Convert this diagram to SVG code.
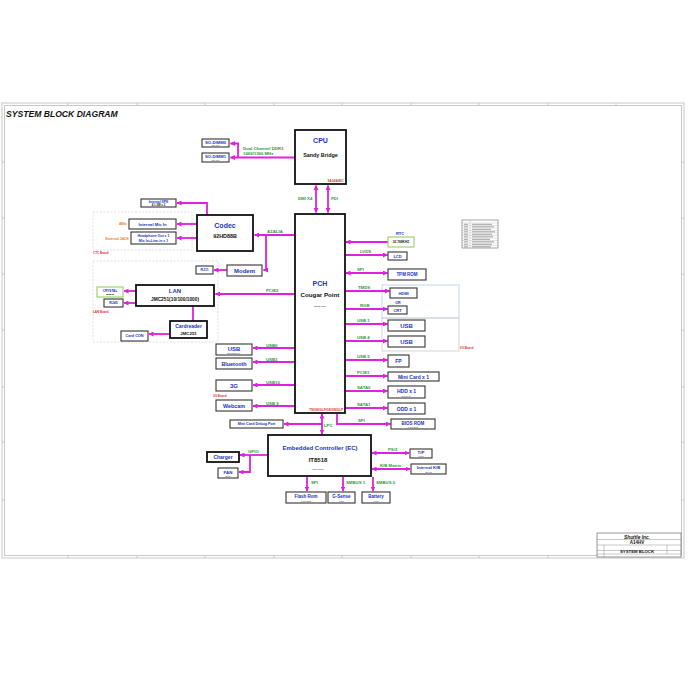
<svg xmlns="http://www.w3.org/2000/svg" width="700" height="700" viewBox="0 0 700 700">
<style>
text{font-family:"Liberation Sans",Arial,sans-serif;font-weight:bold}
.bx{fill:#fff;stroke:#333;stroke-width:1.1}
.tb{fill:#fff;stroke:#111;stroke-width:1.8}
.gb{fill:#fff;stroke:#9c6;stroke-width:1.1}
.nt{fill:#2233bb;text-anchor:middle}
.kt{fill:#111;text-anchor:middle}
.sm{fill:#333;text-anchor:middle;font-size:2.2px;font-weight:normal}
.bl{fill:#2a9a3a;font-size:4.3px}
.rd{fill:#e03030;font-size:3px}
.or{fill:#f08020;font-size:3.4px;text-anchor:end}
.cn{fill:none;stroke:#e020e0;stroke-width:1.8}
.a{marker-end:url(#ah)}
.aa{marker-end:url(#ah);marker-start:url(#ah)}
.dz{fill:none;stroke:#d8d8d8;stroke-width:0.8;stroke-dasharray:2 1.5}
.fr{fill:none;stroke:#c8c8c8;stroke-width:1}
.tk{stroke:#c8c8c8;stroke-width:1}
</style>
<defs>
<marker id="ah" markerUnits="userSpaceOnUse" markerWidth="5" markerHeight="5" refX="4.5" refY="2.5" orient="auto-start-reverse"><path d="M0,0 L5,2.5 L0,5 z" fill="#e020e0"/></marker>
</defs>
<rect width="700" height="700" fill="#fff"/>
<g id="frame">
<rect class="fr" x="2" y="103" width="682" height="455"/>
<rect class="fr" x="4.5" y="105.5" width="677" height="450"/>
<path class="tk" d="M68,103v3M137,103v3M205,103v3M274,103v3M342,103v3M411,103v3M479,103v3M548,103v3M616,103v3M68,555v3M137,555v3M205,555v3M274,555v3M342,555v3M411,555v3M479,555v3M548,555v3M616,555v3M2,162h3M2,218h3M2,274h3M2,330h3M2,387h3M2,442h3M2,500h3M681,162h3M681,218h3M681,274h3M681,330h3M681,387h3M681,442h3M681,500h3"/>
<text x="6" y="117" font-size="8.6" font-style="italic" fill="#111">SYSTEM BLOCK DIAGRAM</text>
</g>
<g id="zones">
<rect class="dz" x="93" y="212" width="99" height="38"/>
<text class="rd" x="93" y="254">CTC Board</text>
<rect class="dz" x="93" y="261" width="125" height="81"/>
<text class="rd" x="93" y="313">LAN Board</text>
<rect x="382" y="285" width="77" height="33" fill="none" stroke="#bcd3e6" stroke-width="0.9"/>
<rect x="382" y="318" width="77" height="33" fill="none" stroke="#d0d0d0" stroke-width="0.9"/>
<text class="rd" x="460" y="349">I/O Board</text>
<text class="rd" x="213" y="397">3G Board</text>
</g>
<g id="connectors">
<path class="cn a" d="M295,157.5H230.5"/>
<path class="cn a" d="M238,157.5V143.5H230.5"/>
<path class="cn aa" d="M316,185.5V212.5"/>
<path class="cn aa" d="M328,185.5V212.5"/>
<path class="cn a" d="M295,235H254.5"/>
<path class="cn a" d="M266,235V270H263.5"/>
<path class="cn a" d="M207,215V203H177"/>
<path class="cn a" d="M197,224H177"/>
<path class="cn a" d="M197,238H177"/>
<path class="cn a" d="M227,270H214"/>
<path class="cn a" d="M295,294H215.5"/>
<path class="cn a" d="M136,291H124"/>
<path class="cn a" d="M136,303H124"/>
<path class="cn" d="M193,306V321"/>
<path class="cn a" d="M170,334H149"/>
<path class="cn a" d="M295,348H253"/>
<path class="cn a" d="M295,362H253"/>
<path class="cn a" d="M295,385H253"/>
<path class="cn a" d="M295,406H253"/>
<path class="cn a" d="M388,242H346"/>
<path class="cn a" d="M345,255H387.5"/>
<path class="cn aa" d="M346,273H387.5"/>
<path class="cn a" d="M345,291H389.5"/>
<path class="cn a" d="M345,309H387.5"/>
<path class="cn a" d="M345,324H387.5"/>
<path class="cn a" d="M345,341H387.5"/>
<path class="cn a" d="M345,360H387.5"/>
<path class="cn a" d="M345,376H387.5"/>
<path class="cn a" d="M345,391H387.5"/>
<path class="cn a" d="M345,408H387.5"/>
<path class="cn aa" d="M322,414V434"/>
<path class="cn a" d="M322,424H284"/>
<path class="cn a" d="M337,414V424H390.5"/>
<path class="cn a" d="M268,455H240"/>
<path class="cn a" d="M250,455V472H239"/>
<path class="cn aa" d="M372,453H409"/>
<path class="cn aa" d="M372,469H410"/>
<path class="cn a" d="M307,477V491"/>
<path class="cn a" d="M343,477V491"/>
<path class="cn a" d="M373,477V491"/>
<text class="bl" x="243" y="150">Dual Channel DDR3</text>
<text class="bl" x="243" y="155">1066/1366 MHz</text>
<text class="bl" x="298" y="200">DMI X4</text>
<text class="bl" x="331" y="200">FDI</text>
<text class="bl" x="267" y="233">AZALIA</text>
<text class="bl" x="266" y="292">PCIE2</text>
<text class="bl" x="266" y="346.5">USB0</text>
<text class="bl" x="266" y="360.5">USB3</text>
<text class="bl" x="266" y="383.5">USB10</text>
<text class="bl" x="266" y="404.5">USB 9</text>
<text class="bl" x="360" y="253">LVDS</text>
<text class="bl" x="357" y="271">SPI</text>
<text class="bl" x="358" y="289">TMDS</text>
<text class="bl" x="360" y="307">RGB</text>
<text class="bl" x="357" y="322">USB 1</text>
<text class="bl" x="357" y="339">USB 4</text>
<text class="bl" x="357" y="358">USB 5</text>
<text class="bl" x="357" y="374">PCIE1</text>
<text class="bl" x="357" y="389">SATA0</text>
<text class="bl" x="357" y="406">SATA1</text>
<text class="bl" x="324" y="427">LPC</text>
<text class="bl" x="358" y="422">SPI</text>
<text class="bl" x="248" y="453">GPIO</text>
<text class="bl" x="388" y="451">PS/2</text>
<text class="bl" x="380" y="467">K/B Matrix</text>
<text class="bl" x="311" y="484">SPI</text>
<text class="bl" x="346" y="484">SMBUS 1</text>
<text class="bl" x="376" y="484">SMBUS 0</text>
</g>
<g id="cpu"><rect class="tb" x="295" y="130" width="51" height="54"/><text class="nt" x="320.5" y="143" font-size="7">CPU</text><text class="kt" x="320.5" y="157" font-size="5.4">Sandy Bridge</text><text class="rd" x="344" y="182" font-size="2.2" text-anchor="end">SA14/A/B/C</text></g>
<g id="sodimm0"><rect class="bx" x="202" y="139" width="27" height="8"/><text class="nt" x="215.5" y="143.5" font-size="4.2">SO-DIMM0</text><text class="sm" x="215.5" y="146.3">204 Pin</text></g>
<g id="sodimm1"><rect class="bx" x="202" y="153" width="27" height="9"/><text class="nt" x="215.5" y="157.5" font-size="4.2">SO-DIMM1</text><text class="sm" x="215.5" y="160.5">204 Pin</text></g>
<g id="pch"><rect class="tb" x="295" y="214" width="50" height="199"/><text class="nt" x="320" y="286" font-size="7">PCH</text><text class="kt" x="320" y="297" font-size="6.2">Cougar Point</text><text class="sm" x="320" y="307" font-size="2.6">BD82HM65</text><text class="rd" x="343" y="411" font-size="2" text-anchor="end">TN/GN/GLF/GE/GN/GLP</text></g>
<g id="codec"><rect class="tb" x="197" y="215" width="56" height="36"/><text class="nt" x="225" y="228" font-size="7">Codec</text><text class="kt" x="225" y="238" font-size="5.4">92HD88B</text></g>
<g id="spk"><rect class="bx" x="141" y="199" width="35" height="8"/><text class="nt" x="158.5" y="202.6" font-size="3.3">Internal SPK</text><text class="kt" x="158.5" y="206" font-size="2.8">4     1.5W x 2</text></g>
<g id="mic"><rect class="bx" x="129" y="219" width="47" height="10"/><text class="nt" x="152.5" y="225.5" font-size="4.2">Internal Mic In</text><text class="or" x="127" y="225">AMic</text></g>
<g id="hp"><rect class="bx" x="131" y="232" width="45" height="12"/><text class="nt" x="153.5" y="237.3" font-size="3.5">Headphone Out x 1</text><text class="nt" x="153.5" y="242" font-size="3.5">Mic In+Line-in x 1</text><text class="or" x="129" y="240">External JACK</text></g>
<g id="modem"><rect class="bx" x="227" y="265" width="35" height="11"/><text class="nt" x="244.5" y="272.6" font-size="6">Modem</text></g>
<g id="rj11"><rect class="bx" x="196" y="266" width="17" height="8"/><text class="nt" x="204.5" y="271.3" font-size="3.5">RJ11</text></g>
<g id="lan"><rect class="tb" x="136" y="285" width="78" height="21"/><text class="nt" x="175" y="293" font-size="6">LAN</text><text class="kt" x="175" y="300.5" font-size="4.8">JMC251(10/100/1000)</text></g>
<g id="crystal"><rect class="gb" x="97" y="287" width="26" height="10"/><text class="nt" x="110" y="291.5" font-size="3.2">CRYSTAL</text><text class="kt" x="110" y="295.3" font-size="2.5">25MHZ</text></g>
<g id="rj45"><rect class="bx" x="104" y="299" width="19" height="8"/><text class="nt" x="113.5" y="304.3" font-size="3.5">RJ45</text></g>
<g id="cardreader"><rect class="tb" x="170" y="321" width="37" height="17"/><text class="nt" x="188.5" y="328" font-size="5">Cardreader</text><text class="kt" x="188.5" y="335" font-size="4.4">JMC251</text></g>
<g id="cardcon"><rect class="bx" x="121" y="331" width="27" height="10"/><text class="nt" x="134.5" y="337.3" font-size="3.8">Card CON</text></g>
<g id="usbl"><rect class="bx" x="216" y="344" width="36" height="11"/><text class="nt" x="234" y="350.5" font-size="6">USB</text><text class="sm" x="234" y="354">Extension 1X</text></g>
<g id="bt"><rect class="bx" x="216" y="358" width="36" height="11"/><text class="nt" x="234" y="365.6" font-size="5.4">Bluetooth</text></g>
<g id="g3"><rect class="bx" x="216" y="380" width="36" height="11"/><text class="nt" x="234" y="387.8" font-size="6">3G</text></g>
<g id="webcam"><rect class="bx" x="216" y="400" width="36" height="11"/><text class="nt" x="234" y="407.6" font-size="5.4">Webcam</text></g>
<g id="rtc"><rect class="gb" x="388" y="237" width="26" height="10"/><text class="nt" x="400" y="235" font-size="4">RTC</text><text class="kt" x="401" y="243.3" font-size="3.2">32.768KHZ</text></g>
<g id="lcd"><rect class="bx" x="388" y="252" width="19" height="8"/><text class="nt" x="397.5" y="257.5" font-size="4">LCD</text></g>
<g id="tpm"><rect class="bx" x="388" y="269" width="38" height="11"/><text class="nt" x="407" y="276" font-size="4.5">TPM ROM</text></g>
<g id="hdmi"><rect class="bx" x="390" y="288" width="27" height="10"/><text class="nt" x="403.5" y="294.5" font-size="4">HDMI</text><text class="nt" x="398" y="303.5" font-size="3.6">OR</text></g>
<g id="crt"><rect class="bx" x="388" y="306" width="19" height="8"/><text class="nt" x="397.5" y="311.5" font-size="4">CRT</text></g>
<g id="usb1"><rect class="bx" x="388" y="320" width="37" height="11"/><text class="nt" x="406.5" y="327.8" font-size="6">USB</text></g>
<g id="usb4"><rect class="bx" x="388" y="336" width="37" height="11"/><text class="nt" x="406.5" y="343.8" font-size="6">USB</text></g>
<g id="fp"><rect class="bx" x="388" y="355" width="21" height="12"/><text class="nt" x="398.5" y="362.5" font-size="5">FP</text></g>
<g id="minicard"><rect class="bx" x="388" y="372" width="51" height="9"/><text class="nt" x="413.5" y="378.5" font-size="5">Mini Card x 1</text></g>
<g id="hdd"><rect class="bx" x="388" y="386" width="37" height="12"/><text class="nt" x="406.5" y="392.5" font-size="5">HDD x 1</text><text class="sm" x="406.5" y="396.6">2.5" SATA</text></g>
<g id="odd"><rect class="bx" x="388" y="403" width="37" height="11"/><text class="nt" x="406.5" y="410.5" font-size="5">ODD x 1</text></g>
<g id="biosrom"><rect class="bx" x="391" y="419" width="44" height="10"/><text class="nt" x="413" y="424.6" font-size="4.5">BIOS ROM</text><text class="sm" x="413" y="428">8 Pin SOP</text></g>
<g id="debug"><rect class="bx" x="230" y="420" width="53" height="8"/><text class="nt" x="256.5" y="425.4" font-size="3.7">Mini Card Debug Port</text></g>
<g id="ec"><rect class="tb" x="268" y="435" width="103" height="41"/><text class="nt" x="320" y="450" font-size="6">Embedded Controller (EC)</text><text class="kt" x="318" y="461.5" font-size="6">IT8518</text><text class="sm" x="318" y="469.5" font-size="2.4">(QFN-128P)</text></g>
<g id="charger"><rect class="tb" x="207" y="452" width="32" height="10"/><text class="nt" x="223" y="459" font-size="5">Charger</text></g>
<g id="fan"><rect class="bx" x="218" y="468" width="20" height="10"/><text class="nt" x="228" y="473.5" font-size="4.4">FAN</text><text class="sm" x="228" y="477">3 Pin</text></g>
<g id="tp"><rect class="bx" x="410" y="449" width="22" height="9"/><text class="nt" x="421" y="453.6" font-size="4.4">T/P</text><text class="sm" x="421" y="456.8">6 Pin</text></g>
<g id="kb"><rect class="bx" x="411" y="464" width="35" height="10"/><text class="nt" x="428.5" y="469.3" font-size="4.2">Internal K/B</text><text class="sm" x="428.5" y="472.8">26 Pin</text></g>
<g id="flash"><rect class="bx" x="286" y="492" width="40" height="11"/><text class="nt" x="306" y="497.8" font-size="4.5">Flash Rom</text><text class="sm" x="306" y="501.6">8 Pin SOP</text></g>
<g id="gsense"><rect class="bx" x="328" y="492" width="27" height="11"/><text class="nt" x="341.5" y="497.8" font-size="4.5">G-Sense</text><text class="sm" x="341.5" y="501.6">7 Pin</text></g>
<g id="battery"><rect class="bx" x="362" y="492" width="28" height="11"/><text class="nt" x="376" y="497.8" font-size="4.5">Battery</text><text class="sm" x="376" y="501.6">7 Pin</text></g>
<g id="table">
<rect x="462" y="220" width="36" height="28" fill="#fff" stroke="#666" stroke-width="0.6"/>
<path d="M462,223h36M462,225.5h36M462,228h36M462,230.5h36M462,233h36M462,235.5h36M462,238h36M462,240.5h36M462,243h36M462,245.5h36M470,220v28" stroke="#999" stroke-width="0.3"/>
<path d="M472,224.3h20M472,226.8h22M472,229.3h19M472,231.8h23M472,234.3h20M472,236.8h21M472,239.3h18M472,241.8h22M472,244.3h20M472,246.8h19M464,224.3h4M464,226.8h4M464,229.3h4M464,231.8h4M464,234.3h4M464,236.8h4M464,239.3h4M464,241.8h4M464,244.3h4M464,246.8h4" stroke="#777" stroke-width="0.7"/>
</g>
<g id="titleblock">
<rect x="597" y="533" width="84" height="24" fill="#fff" stroke="#555" stroke-width="0.6"/>
<path d="M597,539.5h84M597,545h84M597,550.5h84M597,554h84M604,545v12M667,545v9" stroke="#777" stroke-width="0.4"/>
<text x="637" y="538.5" font-size="4.8" font-style="italic" fill="#111" text-anchor="middle">Shuttle Inc.</text>
<text x="637" y="544" font-size="4.5" fill="#111" text-anchor="middle">A14HV</text>
<text x="637" y="552.8" font-size="4.3" fill="#111" text-anchor="middle">SYSTEM BLOCK</text>
</g>
</svg>
